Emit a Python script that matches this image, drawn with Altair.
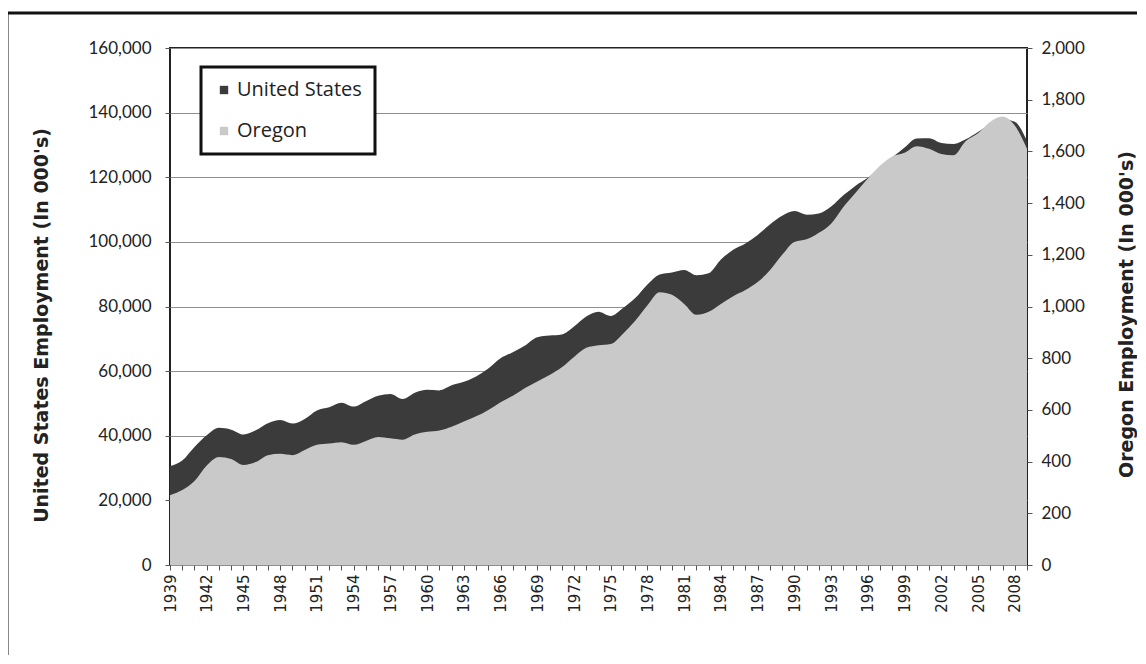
import altair as alt
import pandas as pd

years = list(range(1939, 2010))

us_employment = [
    30618,
    32376, 36554, 40125, 42452, 41883, 40394, 41674, 43881, 44891, 43778,
    45222, 47849, 48825, 50232, 49022, 50675, 52408, 52894, 51363, 53313,
    54234, 54042, 55596, 56702, 58331, 60815, 63955, 65857, 67951, 70515,
    71006, 71335, 73798, 76912, 78389, 77069, 79502, 82593, 86826, 89933,
    90533, 91297, 89689, 90295, 94548, 97532, 99500, 102116, 105378, 108051,
    109527, 108427, 108802, 110935, 114398, 117407, 119836, 122951, 126157, 129240,
    132019, 132074, 130628, 130318, 131749, 134005, 136398, 137936, 137170, 131220,
]

oregon_employment = [
    270,
    290, 325, 385, 418, 410, 387, 398, 425, 430, 425,
    445, 465, 470, 475, 465, 480, 495, 490, 485, 505,
    515, 520, 535, 555, 575, 600, 630, 655, 685, 710,
    735, 765, 805, 840, 850, 855, 895, 945, 1005, 1055,
    1045, 1010, 968, 980, 1010, 1040, 1064, 1095, 1140, 1200,
    1250, 1260, 1285, 1320, 1385, 1440, 1495, 1545, 1580, 1595,
    1620, 1610, 1590, 1585, 1640, 1670, 1715, 1735, 1700, 1610,
]

series_names = ["United States", "Oregon"]
series_colors = ["#3b3b3b", "#c9c9c9"]

us_ticks = list(range(0, 160001, 20000))
or_ticks = list(range(0, 2001, 200))

df = pd.DataFrame({"year": years, "us": us_employment, "oregon": oregon_employment})

FONT = "Lato"
TFONT = "DejaVu Sans"

x_enc = alt.X(
    "year:Q",
    scale=alt.Scale(domain=[1939, 2009], nice=False, zero=False),
    axis=alt.Axis(
        values=years,
        labelExpr="(datum.value - 1939) % 3 == 0 ? format(datum.value, 'd') : ''",
        labelAngle=-90,
        labelFont="DejaVu Sans",
        labelFontSize=15,
        labelColor="#222222",
        labelPadding=4,
        tickSize=5,
        tickColor="#555555",
        domain=False,
        grid=False,
        title=None,
        labelOverlap=False,
    ),
)

color_scale = alt.Scale(domain=series_names, range=series_colors)
legend = alt.Legend(
    title=None,
    orient="none",
    legendX=31,
    legendY=19,
    symbolType="square",
    symbolSize=70,
    symbolStrokeWidth=0,
    labelFont="Open Sans",
    labelFontSize=20,
    labelColor="#222222",
    labelOffset=3,
    rowPadding=21,
    padding=13,
    strokeColor="#111111",
    fillColor="white",
)

us_layer = alt.Chart(df).mark_area(interpolate="monotone").encode(
    x=x_enc,
    y=alt.Y(
        "us:Q",
        scale=alt.Scale(domain=[0, 160000], nice=False),
        axis=alt.Axis(
            orient="left",
            values=us_ticks,
            format=",d",
            labelFont=FONT,
            labelFontSize=17,
            labelColor="#222222",
            labelPadding=14,
            tickSize=5,
            tickColor="#555555",
            domain=False,
            grid=True,
            gridColor="#8f8f8f",
            gridWidth=1,
            title="United States Employment (In 000's)",
            titleFont=TFONT,
            titleFontSize=19,
            titleFontWeight="bold",
            titleColor="#222222",
            titlePadding=36,
            titleY=277,
        ),
    ),
    color=alt.Color("s:N", scale=color_scale, legend=legend),
).transform_calculate(s="'United States'")

or_layer = alt.Chart(df).mark_area(interpolate="monotone").encode(
    x=x_enc,
    y=alt.Y(
        "oregon:Q",
        scale=alt.Scale(domain=[0, 2000], nice=False),
        axis=alt.Axis(
            orient="right",
            values=or_ticks,
            format=",d",
            labelFont=FONT,
            labelFontSize=17,
            labelColor="#222222",
            labelPadding=9,
            tickSize=5,
            tickColor="#555555",
            domain=False,
            grid=False,
            title="Oregon Employment (In 000's)",
            titleFont=TFONT,
            titleFontSize=19,
            titleFontWeight="bold",
            titleColor="#222222",
            titleAngle=270,
            titlePadding=52,
            titleY=266,
        ),
    ),
    color=alt.Color("s:N", scale=color_scale, legend=legend),
).transform_calculate(s="'Oregon'")

frame = alt.Chart(pd.DataFrame({"a": [0]})).mark_rect(
    fill=None, stroke="#111111", strokeWidth=3
).encode(
    x=alt.value(-163), x2=alt.value(1150), y=alt.value(-35), y2=alt.value(720)
)

chart = (
    alt.layer(us_layer, or_layer, frame)
    .resolve_scale(y="independent")
    .properties(
        width=857,
        height=517,
        autosize=alt.AutoSizeParams(type="none"),
        padding={"left": 162, "top": 40, "right": 110, "bottom": 90},
        background="white",
    )
    .configure_view(stroke="#222222", strokeWidth=2)
    .configure_legend(strokeWidth=3)
)

chart.save("out.html", embed_options={"renderer": "svg", "actions": False})
